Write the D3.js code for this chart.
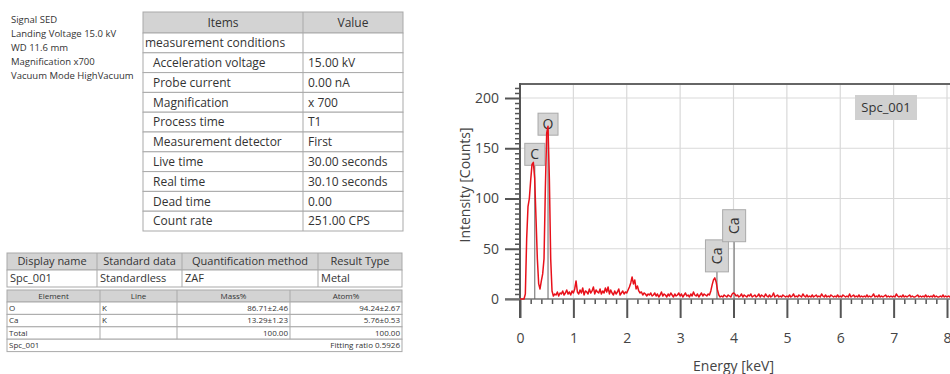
<!DOCTYPE html>
<html>
<head>
<meta charset="utf-8">
<script src="https://cdn.jsdelivr.net/npm/d3@7"></script>
<style>
  body { margin: 0; background: #fff; }
  svg { display: block; font-family: "Open Sans", "Noto Sans", sans-serif; }
</style>
</head>
<body>
<svg id="chart" width="950" height="374"></svg>
<script>
// ---- data ----
const infoLines = ["Signal SED", "Landing Voltage 15.0 kV", "WD 11.6 mm", "Magnification x700", "Vacuum Mode HighVacuum"];

const condItems = ["measurement conditions", "Acceleration voltage", "Probe current", "Magnification", "Process time",
  "Measurement detector", "Live time", "Real time", "Dead time", "Count rate"];
const condValues = ["", "15.00 kV", "0.00 nA", "x 700", "T1", "First", "30.00 seconds", "30.10 seconds", "0.00", "251.00 CPS"];

const quantHeader = ["Display name", "Standard data", "Quantification method", "Result Type"];
const quantRow = ["Spc_001", "Standardless", "ZAF", "Metal"];

const resultHeader = ["Element", "Line", "Mass%", "Atom%"];
const resultElements = ["O", "Ca"];
const resultLines = ["K", "K"];
const resultMass = ["86.71\u00b12.46", "13.29\u00b11.23"];
const resultAtom = ["94.24\u00b12.67", "5.76\u00b10.53"];
const resultTotal = ["Total", "", "100.00", "100.00"];
const fittingNote = ["Spc_001", "Fitting ratio 0.5926"];

// spectrum, one value per 0.025 keV channel starting at 0 keV
const channelWidth = 0.025;
const counts = [
  0,0,0,0,5,60,92,100,118,134,136,120,80,40,15,10,18,25,40,110,
  165,172,120,40,8,3,5,4,7,3,6,5,8,4,6,9,5,7,4,8,
  6,10,18,7,5,9,6,11,4,8,7,5,10,6,8,12,5,9,7,6,
  10,5,8,6,11,7,12,5,9,6,4,8,5,7,10,4,6,8,5,7,
  6,9,12,16,22,15,19,10,13,8,6,7,4,6,5,3,5,4,6,3,
  4,6,3,5,2,4,7,3,5,4,2,5,3,6,4,2,5,3,4,6,
  3,5,2,4,6,3,4,2,5,3,7,4,3,5,2,4,6,3,5,4,
  3,5,4,8,14,19,21,17,9,4,2,3,2,4,3,2,4,3,2,5,
  6,5,3,4,2,3,5,2,4,3,2,4,3,5,2,3,4,2,3,5,
  2,4,3,2,5,3,2,4,2,3,6,2,3,4,2,3,2,4,3,2,
  3,2,4,2,3,5,2,3,2,4,3,2,5,3,2,4,2,3,2,4,
  2,3,4,2,3,2,5,3,2,4,2,3,2,4,3,2,3,2,4,2,
  3,2,4,3,2,3,2,5,2,3,4,2,3,2,4,2,3,2,3,2,
  4,2,3,2,3,5,2,3,2,4,2,3,2,3,4,2,3,2,3,2,
  3,2,5,3,2,3,2,4,2,3,2,3,4,2,3,2,2,3,4,2,
  3,2,3,2,4,2,3,2,3,2,4,2,3,2,2,3,2,4,2,3,
  2,3,2,4,2,3,2,3,2,3,2,3
];

const peakNames = ["C", "O", "Ca", "Ca"];
const peakEnergy = [0.277, 0.525, 3.690, 4.012];
const peakLabelAt = [133, 163, 27, 57];
const peakRotated = [false, false, true, true];

const xTicks = [0, 1, 2, 3, 4, 5, 6, 7, 8];
const yTicks = [0, 50, 100, 150, 200];
const spectrumName = "Spc_001";

// ---- drawing ----
const svg = d3.select("#chart");
const textColor = "#333";
const lineColor = "#a9a9a9";
const headFill = "#d3d3d3";

// info block
svg.append("g").selectAll("text").data(infoLines).enter().append("text")
  .attr("x", 11).attr("y", (d, i) => 20 + i * 13.8).attr("dy", "0.35em")
  .attr("font-size", 9.5).attr("fill", textColor).text(d => d);

// generic table helper
function drawTable(g, cols, rowTops, fills) {
  rowTops.slice(0, -1).forEach(function (top, i) {
    g.append("rect").attr("x", cols[0]).attr("y", top)
      .attr("width", cols[cols.length - 1] - cols[0]).attr("height", rowTops[i + 1] - top)
      .attr("fill", fills[i] || "#fff").attr("stroke", lineColor).attr("stroke-width", 1);
  });
}

// conditions table
const t1 = svg.append("g");
const t1Cols = [143, 303, 403];
const t1Rows = [12, 33].concat(condItems.map((d, i) => 33 + (i + 1) * 19.8));
drawTable(t1, t1Cols, t1Rows, [headFill]);
t1.append("line").attr("x1", 303).attr("x2", 303).attr("y1", 12).attr("y2", t1Rows[t1Rows.length - 1])
  .attr("stroke", lineColor);
t1.append("text").attr("x", 223).attr("y", 22.5).attr("dy", "0.35em").attr("text-anchor", "middle")
  .attr("font-size", 12).attr("fill", textColor).text("Items");
t1.append("text").attr("x", 353).attr("y", 22.5).attr("dy", "0.35em").attr("text-anchor", "middle")
  .attr("font-size", 12).attr("fill", textColor).text("Value");
t1.selectAll(".item").data(condItems).enter().append("text").attr("class", "item")
  .attr("x", (d, i) => i === 0 ? 145 : 153).attr("y", (d, i) => t1Rows[i + 1] + 9.9).attr("dy", "0.35em")
  .attr("font-size", 12).attr("fill", textColor).text(d => d);
t1.selectAll(".val").data(condValues).enter().append("text").attr("class", "val")
  .attr("x", 308).attr("y", (d, i) => t1Rows[i + 1] + 9.9).attr("dy", "0.35em")
  .attr("font-size", 12).attr("fill", textColor).text(d => d);

// quantification table
const t2 = svg.append("g");
const t2Cols = [7, 97, 182, 318, 402];
const t2Rows = [253, 270, 287];
drawTable(t2, t2Cols, t2Rows, [headFill]);
t2Cols.slice(1, -1).forEach(c => t2.append("line").attr("x1", c).attr("x2", c).attr("y1", 253).attr("y2", 287).attr("stroke", lineColor));
quantHeader.forEach(function (d, i) {
  t2.append("text").attr("x", (t2Cols[i] + t2Cols[i + 1]) / 2).attr("y", 261.5).attr("dy", "0.35em")
    .attr("text-anchor", "middle").attr("font-size", 11).attr("fill", textColor).text(d);
  t2.append("text").attr("x", t2Cols[i] + 3).attr("y", 278.5).attr("dy", "0.35em")
    .attr("font-size", 11).attr("fill", textColor).text(quantRow[i]);
});

// results table
const t3 = svg.append("g");
const t3Cols = [7, 100, 177, 290, 402];
const t3Rows = [290, 302, 314.4, 326.8, 339.2, 351.6];
drawTable(t3, t3Cols, t3Rows, [headFill]);
t3Cols.slice(1, -1).forEach(c => t3.append("line").attr("x1", c).attr("x2", c).attr("y1", 290).attr("y2", 339.2).attr("stroke", lineColor));
const fs3 = 8;
resultHeader.forEach(function (d, i) {
  t3.append("text").attr("x", (t3Cols[i] + t3Cols[i + 1]) / 2).attr("y", 296).attr("dy", "0.35em")
    .attr("text-anchor", "middle").attr("font-size", fs3).attr("fill", textColor).text(d);
});
const resultRows = resultElements.map((e, i) => [e, resultLines[i], resultMass[i], resultAtom[i]]).concat([resultTotal]);
resultRows.forEach(function (row, r) {
  const cy = (t3Rows[r + 1] + t3Rows[r + 2]) / 2;
  row.forEach(function (d, i) {
    const right = i >= 2;
    t3.append("text").attr("x", right ? t3Cols[i + 1] - 2 : t3Cols[i] + 2).attr("y", cy).attr("dy", "0.35em")
      .attr("text-anchor", right ? "end" : "start").attr("font-size", fs3).attr("fill", textColor).text(d);
  });
});
t3.append("text").attr("x", 9).attr("y", 345.4).attr("dy", "0.35em").attr("font-size", fs3).attr("fill", textColor).text(fittingNote[0]);
t3.append("text").attr("x", 400).attr("y", 345.4).attr("dy", "0.35em").attr("text-anchor", "end").attr("font-size", fs3).attr("fill", textColor).text(fittingNote[1]);

// ---- spectrum ----
const x = d3.scaleLinear().domain([0, 8]).range([520, 947]);
const y = d3.scaleLinear().domain([0, 200]).range([299, 98]);
const plotTop = y(214), plotRight = 960;
const axisColor = "#555";

const plot = svg.append("g");
plot.append("clipPath").attr("id", "clip").append("rect")
  .attr("x", x(0)).attr("y", plotTop).attr("width", plotRight - x(0)).attr("height", y(0) - plotTop + 2);

// grid
plot.selectAll(".vgrid").data(xTicks.slice(1)).enter().append("line").attr("class", "vgrid")
  .attr("x1", d => x(d)).attr("x2", d => x(d)).attr("y1", plotTop).attr("y2", y(0))
  .attr("stroke", "#d9d9d9").attr("stroke-width", 1.2);
plot.selectAll(".hgrid").data(yTicks.slice(1)).enter().append("line").attr("class", "hgrid")
  .attr("x1", x(0)).attr("x2", plotRight).attr("y1", d => y(d)).attr("y2", d => y(d))
  .attr("stroke", "#d9d9d9").attr("stroke-width", 1.2);

// top border
plot.append("line").attr("x1", x(0)).attr("x2", plotRight).attr("y1", plotTop).attr("y2", plotTop)
  .attr("stroke", "#666").attr("stroke-width", 2);

// y axis
const yAxis = plot.append("g").attr("transform", `translate(${x(0)},0)`)
  .call(d3.axisLeft(y).tickValues(yTicks).tickSize(15).tickPadding(6));
yAxis.select(".domain").remove();
yAxis.selectAll("line").attr("stroke", axisColor).attr("stroke-width", 2);
yAxis.selectAll("text").attr("font-size", 14).attr("fill", "#444").attr("font-family", "Open Sans, sans-serif");
const yMinor = plot.append("g").attr("transform", `translate(${x(0)},0)`)
  .call(d3.axisLeft(y).tickValues(d3.range(5, 214, 5).filter(v => v % 50 !== 0)).tickSize(5).tickFormat(""));
yMinor.select(".domain").remove();
yMinor.selectAll("line").attr("stroke", axisColor).attr("stroke-width", 1.5);
plot.append("line").attr("x1", x(0)).attr("x2", x(0)).attr("y1", plotTop - 1).attr("y2", y(0) + 19)
  .attr("stroke", axisColor).attr("stroke-width", 2);

// x axis
const xAxis = plot.append("g").attr("transform", `translate(0,${y(0)})`)
  .call(d3.axisBottom(x).tickValues(xTicks).tickSize(19).tickPadding(15));
xAxis.select(".domain").remove();
xAxis.selectAll("line").attr("stroke", axisColor).attr("stroke-width", 2);
xAxis.selectAll("text").attr("font-size", 14).attr("fill", "#444").attr("font-family", "Open Sans, sans-serif");
const xMinor = plot.append("g").attr("transform", `translate(0,${y(0)})`)
  .call(d3.axisBottom(x).tickValues(d3.range(0.2, 8.8, 0.2).filter(v => Math.abs(v - Math.round(v)) > 0.01)).tickSize(5).tickFormat(""));
xMinor.select(".domain").remove();
xMinor.selectAll("line").attr("stroke", axisColor).attr("stroke-width", 1.5);
plot.append("line").attr("x1", x(0) - 15).attr("x2", plotRight).attr("y1", y(0)).attr("y2", y(0))
  .attr("stroke", "#777").attr("stroke-width", 1.5);

// axis titles
svg.append("text").attr("x", x(4)).attr("y", 366).attr("dy", "0.35em").attr("text-anchor", "middle")
  .attr("font-size", 14).attr("fill", "#444").text("Energy [keV]");
svg.append("text").attr("transform", "translate(465,185) rotate(-90)").attr("dy", "0.35em")
  .attr("text-anchor", "middle").attr("font-size", 14).attr("fill", "#444").text("Intensity [Counts]");

// peak markers
const peaks = plot.append("g");
peakNames.forEach(function (name, i) {
  const px = x(peakEnergy[i]);
  const bottom = y(peakLabelAt[i]);
  const bw = peakRotated[i] ? 23 : 20, bh = peakRotated[i] ? 32 : 22;
  peaks.append("line").attr("x1", px).attr("x2", px).attr("y1", bottom).attr("y2", y(0))
    .attr("stroke", "#666").attr("stroke-width", 1);
  peaks.append("rect").attr("x", px - bw / 2).attr("y", bottom - bh).attr("width", bw).attr("height", bh)
    .attr("fill", "#d4d4d4").attr("stroke", "#aaa").attr("stroke-width", 1);
  const t = peaks.append("text").attr("dy", "0.35em").attr("text-anchor", "middle")
    .attr("font-size", 14).attr("fill", "#333").text(name);
  if (peakRotated[i]) t.attr("transform", `translate(${px},${bottom - bh / 2}) rotate(-90)`);
  else t.attr("x", px).attr("y", bottom - bh / 2);
});

// spectrum line
const line = d3.line().x((d, i) => x(i * channelWidth)).y(d => y(d));
plot.append("path").datum(counts).attr("clip-path", "url(#clip)")
  .attr("d", line).attr("fill", "none").attr("stroke", "#e8101a").attr("stroke-width", 1.5)
  .attr("stroke-linejoin", "round");

// spectrum name box
plot.append("rect").attr("x", 855).attr("y", 95).attr("width", 62).attr("height", 25).attr("fill", "#d0d0d0");
plot.append("text").attr("x", 886).attr("y", 107.5).attr("dy", "0.35em").attr("text-anchor", "middle")
  .attr("font-size", 13).attr("fill", "#333").text(spectrumName);
</script>
</body>
</html>
